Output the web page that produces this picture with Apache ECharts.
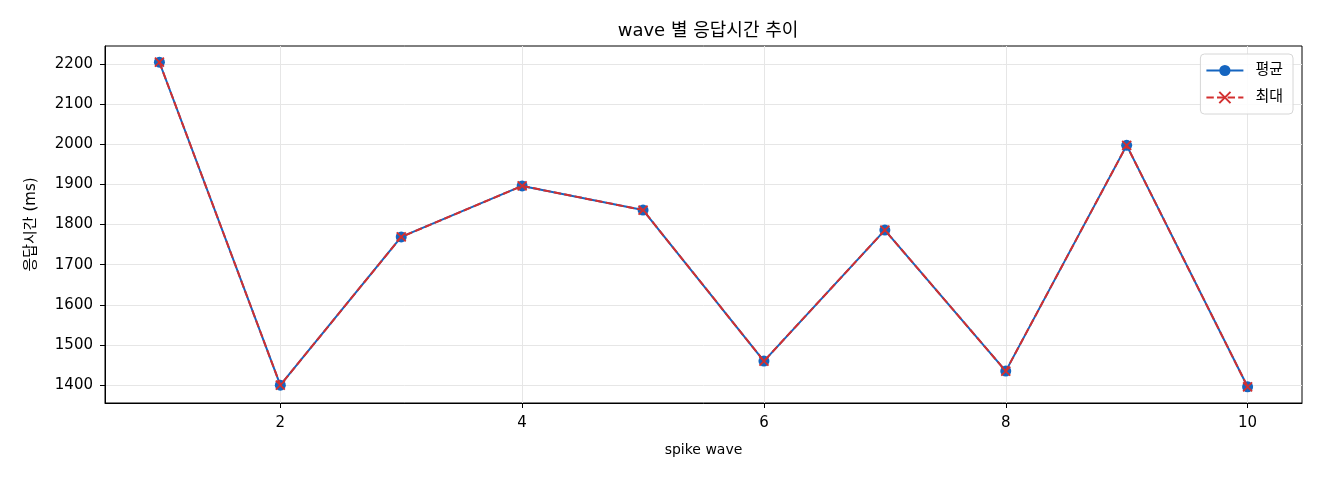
<!DOCTYPE html>
<html>
<head>
<meta charset="utf-8">
<script src="https://cdn.jsdelivr.net/npm/echarts@6/dist/echarts.min.js"></script>
<style>
  html, body { margin: 0; padding: 0; background: #fff; }
  #mainChart { width: 1320px; height: 480px; }
</style>
</head>
<body>
<div id="mainChart"></div>
<script>
// data
var waves = [1, 2, 3, 4, 5, 6, 7, 8, 9, 10];
var avgMs = [2204, 1400, 1769, 1896, 1836, 1460, 1786, 1435, 1997, 1396];
var maxMs = [2204, 1400, 1769, 1896, 1836, 1460, 1786, 1435, 1997, 1396];
var xTicks = [2, 4, 6, 8, 10];
var yTicks = [1400, 1500, 1600, 1700, 1800, 1900, 2000, 2100, 2200];

var FONT = '"DejaVu Sans", "Noto Sans CJK KR", sans-serif';

var myChart = echarts.init(document.getElementById('mainChart'));

function pairs(xs, ys) {
  return xs.map(function (x, i) { return [x, ys[i]]; });
}

myChart.setOption({
  animation: false,
  textStyle: { fontFamily: FONT },
  title: {
    text: 'wave 별 응답시간 추이',
    left: 703,
    textAlign: 'center',
    top: 17,
    textStyle: { fontFamily: FONT, fontSize: 18, fontWeight: 'normal', color: '#000' }
  },
  grid: {
    left: 105, right: 18, top: 46, bottom: 77,
    show: true, borderColor: '#000', borderWidth: 1, backgroundColor: 'transparent'
  },
  legend: {
    orient: 'vertical',
    right: 27, top: 54,
    padding: [9, 10, 9, 5],
    itemGap: 12,
    itemWidth: 37, itemHeight: 14,
    borderColor: '#d6d6d6', borderWidth: 1, borderRadius: 4,
    backgroundColor: 'rgba(255,255,255,0.85)',
    textStyle: { fontFamily: FONT, fontSize: 15, color: '#000', padding: [0, 0, 0, 7] },
    data: ['평균', '최대']
  },
  xAxis: {
    type: 'value',
    min: 0.55, max: 10.45,
    name: 'spike wave',
    nameLocation: 'middle',
    nameGap: 40,
    nameTextStyle: { fontFamily: FONT, fontSize: 14, color: '#000' },
    axisLine: { show: true, lineStyle: { color: '#000', width: 1 } },
    axisTick: { show: true, length: 5, customValues: xTicks, lineStyle: { color: '#000' } },
    axisLabel: { customValues: xTicks, margin: 13, fontFamily: FONT, fontSize: 15, color: '#000' },
    splitLine: { show: true, lineStyle: { color: '#e6e6e6', width: 1 } }
  },
  yAxis: {
    type: 'value',
    min: 1355.6, max: 2244.4,
    name: '응답시간 (ms)',
    nameLocation: 'middle',
    nameGap: 66,
    nameTextStyle: { fontFamily: FONT, fontSize: 15, color: '#000' },
    axisLine: { show: true, lineStyle: { color: '#000', width: 1 } },
    axisTick: { show: true, length: 5, customValues: yTicks, lineStyle: { color: '#000' } },
    axisLabel: {
      customValues: yTicks, margin: 12, fontFamily: FONT, fontSize: 15, color: '#000',
      formatter: function (v) { return String(v); }
    },
    splitLine: { show: true, lineStyle: { color: '#e6e6e6', width: 1 } }
  },
  series: [
    {
      name: '평균',
      type: 'line',
      data: pairs(waves, avgMs),
      symbol: 'circle',
      symbolSize: 11,
      itemStyle: { color: '#1565c0' },
      lineStyle: { color: '#1565c0', width: 2 },
      z: 2
    },
    {
      name: '최대',
      type: 'line',
      data: pairs(waves, maxMs),
      symbol: 'path://M0,0L10,10M10,0L0,10',
      symbolSize: 9,
      itemStyle: { color: '#d32f2f', borderColor: '#d32f2f', borderWidth: 1.8 },
      lineStyle: { color: '#d32f2f', width: 2, type: [7.4, 3.2] },
      z: 3
    }
  ]
});
</script>
</body>
</html>
